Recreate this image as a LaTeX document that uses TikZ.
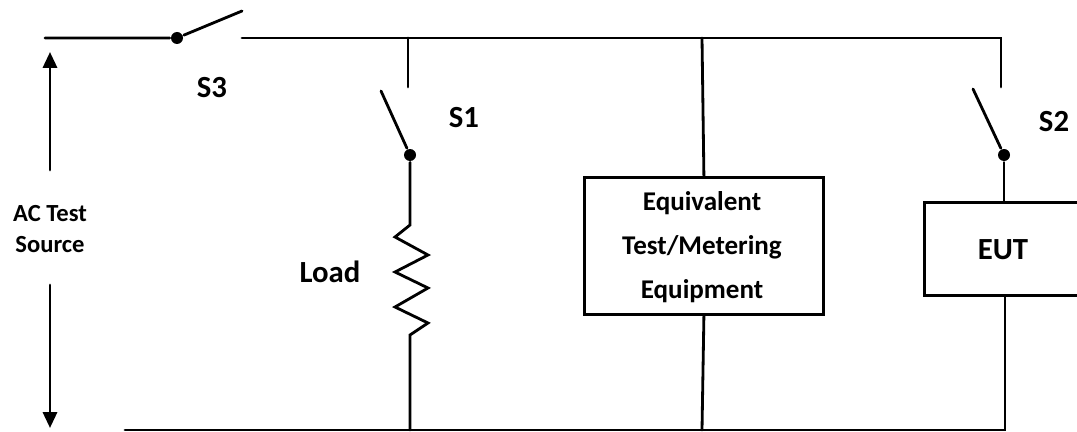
\documentclass[tikz,border=0pt]{standalone}
\usepackage{fontspec}
\setmainfont{Carlito}
\usetikzlibrary{arrows.meta}
\begin{document}
\begin{tikzpicture}[x=0.02cm, y=-0.02cm, line width=1.6pt, line cap=round,
 dot/.style={circle,fill=black,inner sep=0pt,minimum size=0.24cm},
 box/.style={draw,line width=1.6pt,inner sep=0pt,anchor=north west},
 lbl/.style={font=\bfseries\fontsize{17.5}{20}\selectfont},
 pt/.style={coordinate}]%
\useasboundingbox (0,0) rectangle (1077,432);
\begin{scope}
\node[dot] (s3) at (177,38) {};
\node[dot] (s1) at (410,155) {};
\node[dot] (s2) at (1004,155) {};
\node[pt] (s3b) at (242,11) {};
\node[pt] (s1b) at (381,91) {};
\node[pt] (s2b) at (973,89) {};
\node[pt] (lt) at (45,38) {};
\node[pt] (top1) at (242,38) {};
\node[pt] (top2) at (1001,38) {};
\node[pt] (s1t) at (408,87) {};
\node[pt] (s2t) at (1001,87) {};
\node[pt] (rtop) at (410,225) {};
\node[pt] (rbot) at (410,335) {};
\node[pt] (lb) at (125,430) {};
\node[pt] (b1) at (410,430) {};
\node[pt] (b2) at (702,430) {};
\node[pt] (b3) at (1005,430) {};
\node[box,minimum width=239*0.02cm,minimum height=137*0.02cm] (eq) at (583,176) {};
\node[box,minimum width=170*0.02cm,minimum height=93*0.02cm] (eut) at (923,201) {};
\end{scope}
\begin{scope}[every node/.style={lbl}]
\node (l3) at (212,88) {S3};
\node (l1) at (464,118) {S1};
\node (l2) at (1054,122) {S2};
\node (ld) at (330,272) {Load};
\node[align=center,font=\bfseries\fontsize{15.4}{25}\selectfont] (eqt) at (702,247) {Equivalent\\Test/Metering\\Equipment};
\node (eutt) at (1003,250) {EUT};
\node[align=center,font=\bfseries\fontsize{14}{17.5}\selectfont] (src) at (50,229) {AC Test\\Source};
\end{scope}
\begin{scope}
\draw (lt) -- (s3) -- (s3b);
\draw (top1) -- (top2) -- (s2t);
\draw (408,38) -- (s1t);
\draw (s1b) -- (s1);
\draw (s2b) -- (s2);
\draw (s1) -- (rtop) -- (395,237) -- (428,255) -- (395,272) -- (428,288)
 -- (395,307) -- (428,323) -- (rbot) -- (b1);
\draw (702,38) -- (eq.north);
\draw (eq.south) -- (b2);
\draw (s2) -- (s2 |- eut.north);
\draw (b3 |- eut.south) -- (b3) -- (lb);
\draw[-{Triangle[width=8pt,length=9pt]}] (50,170) -- (50,52);
\draw[-{Triangle[width=8pt,length=9pt]}] (50,285) -- (50,428);
\end{scope}
\end{tikzpicture}
\end{document}
